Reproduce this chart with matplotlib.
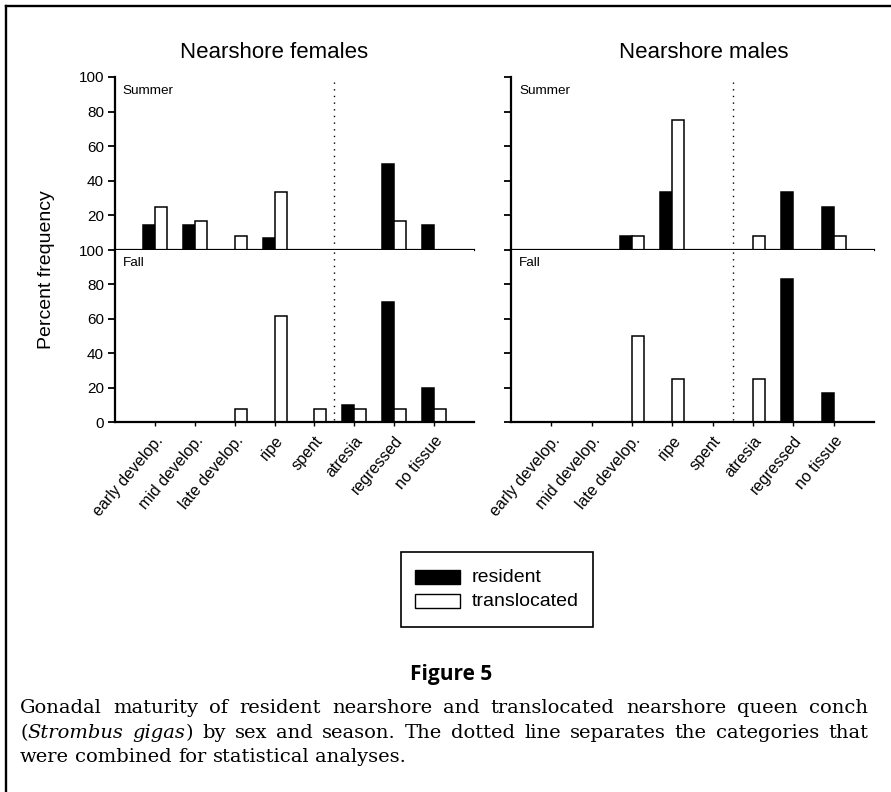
"""
Figure 5: gonadal maturity of resident vs translocated nearshore queen conch,
by sex (columns) and season (rows). Saves out.png.
"""

import matplotlib
matplotlib.use("Agg")
import matplotlib.pyplot as plt
from matplotlib.lines import Line2D
from matplotlib.patches import Rectangle

W, H = 891, 792  # figure size in pixels (dpi 100)

CATEGORIES = ["early develop.", "mid develop.", "late develop.", "ripe",
              "spent", "atresia", "regressed", "no tissue"]
SERIES = ["resident", "translocated"]

# percent frequency per category
FEM_SUMMER_RES = [14.3, 14.3, 0, 7.1, 0, 0, 50.0, 14.3]
FEM_SUMMER_TRANS = [25.0, 16.7, 8.3, 33.3, 0, 0, 16.7, 0]
FEM_FALL_RES = [0, 0, 0, 0, 0, 10.0, 70.0, 20.0]
FEM_FALL_TRANS = [0, 0, 7.7, 61.5, 7.7, 7.7, 7.7, 7.7]
MALE_SUMMER_RES = [0, 0, 8.3, 33.3, 0, 0, 33.3, 25.0]
MALE_SUMMER_TRANS = [0, 0, 8.3, 75.0, 0, 8.3, 0, 8.3]
MALE_FALL_RES = [0, 0, 0, 0, 0, 0, 83.3, 16.7]
MALE_FALL_TRANS = [0, 0, 50.0, 25.0, 0, 25.0, 0, 0]

CAPTION_1 = "Gonadal maturity of resident nearshore and translocated nearshore queen conch"
CAPTION_2 = [[("(", "normal"), ("Strombus", "italic")], [("gigas", "italic"), (")", "normal")],
             "by", "sex", "and", "season.", "The", "dotted", "line", "separates", "the",
             "categories", "that"]
CAPTION_3 = "were combined for statistical analyses."

plt.rcParams["font.family"] = ["Liberation Sans", "DejaVu Sans"]

BAR_W = 0.3
SPLIT = 4.5  # dotted line between "spent" and "atresia"


def px_rect(x0, y0, x1, y1):
    return [x0 / W, 1 - y1 / H, (x1 - x0) / W, (y1 - y0) / H]


def fx(x):
    return x / W


def fy(y):
    return 1 - y / H


def draw_panel(ax, res, trans, season, show_ylabels, bottom_row):
    xs = list(range(len(CATEGORIES)))
    # resident to the left of the tick, translocated to the right
    for x, v in zip(xs, res):
        if v > 0:
            ax.bar(x, v, width=-BAR_W, align="edge", color="black",
                   edgecolor="black", linewidth=1.1)
    for x, v in zip(xs, trans):
        if v > 0:
            ax.bar(x, v, width=BAR_W, align="edge", color="white",
                   edgecolor="black", linewidth=1.1)
    ax.set_xlim(-1, 8)
    ax.set_ylim(0, 100)
    for s in ["top", "right"]:
        ax.spines[s].set_visible(False)
    for s in ["left", "bottom"]:
        ax.spines[s].set_linewidth(1.6)
    if bottom_row:
        ax.set_yticks([0, 20, 40, 60, 80, 100])
        ax.set_xticks(xs)
        ax.set_xticklabels(CATEGORIES, rotation=50, ha="right",
                           rotation_mode="anchor", fontsize=11.5)
        ax.tick_params(axis="x", direction="out", length=3, width=1, pad=5)
        ax.axvline(SPLIT, ymin=0.01, ymax=1.0, color="black", lw=1.0,
                   linestyle=(0, (1, 3.8)))
    else:
        ax.set_yticks([20, 40, 60, 80, 100])
        ax.tick_params(axis="x", bottom=False, labelbottom=False)
        ax.axvline(SPLIT, ymin=0.0, ymax=0.97, color="black", lw=1.0,
                   linestyle=(0, (1, 3.8)))
    ax.tick_params(axis="y", direction="out", length=5, width=1.3, pad=3,
                   labelsize=11, labelleft=show_ylabels)
    ax.text(0.022, 0.92 if not bottom_row else 0.925, season,
            transform=ax.transAxes, fontsize=9.7, va="center", ha="left")


def place_words(fig, renderer, words, y, x0, x1, size, justify=True):
    # words: list of str or list of (text, style) pieces
    groups = []
    for w in words:
        pieces = [(w, "normal")] if isinstance(w, str) else w
        arts = []
        for txt, style in pieces:
            t = fig.text(0, fy(y), txt, fontsize=size, style=style,
                         family="DejaVu Serif", va="baseline", ha="left")
            arts.append(t)
        groups.append(arts)
    widths = [[a.get_window_extent(renderer).width for a in g] for g in groups]
    total = sum(sum(w) for w in widths)
    gap = (x1 - x0 - total) / (len(groups) - 1) if justify else size * 0.32 * 100 / 72
    x = x0
    for g, ws in zip(groups, widths):
        for a, w in zip(g, ws):
            a.set_x(fx(x))
            x += w
        x += gap


def main():
    fig = plt.figure(figsize=(W / 100, H / 100), dpi=100)

    ax_fs = fig.add_axes(px_rect(115, 77, 474, 250))
    ax_ff = fig.add_axes(px_rect(115, 250, 474, 422))
    ax_ms = fig.add_axes(px_rect(511, 77, 874, 250))
    ax_mf = fig.add_axes(px_rect(511, 250, 874, 422))

    draw_panel(ax_fs, FEM_SUMMER_RES, FEM_SUMMER_TRANS, "Summer", True, False)
    draw_panel(ax_ff, FEM_FALL_RES, FEM_FALL_TRANS, "Fall", True, True)
    draw_panel(ax_ms, MALE_SUMMER_RES, MALE_SUMMER_TRANS, "Summer", False, False)
    draw_panel(ax_mf, MALE_FALL_RES, MALE_FALL_TRANS, "Fall", False, True)

    fig.text(fx(180), fy(58), "Nearshore females", fontsize=16,
             ha="left", va="baseline")
    fig.text(fx(619), fy(58), "Nearshore males", fontsize=16,
             ha="left", va="baseline")
    fig.text(fx(47), fy(270), "Percent frequency", fontsize=14,
             rotation=90, ha="center", va="center")

    # legend box
    fig.add_artist(Rectangle((fx(401), fy(627)), (593 - 401) / W, (627 - 552) / H,
                             transform=fig.transFigure, fill=False,
                             edgecolor="black", linewidth=1.2))
    for i, (label, color) in enumerate(zip(SERIES, ["black", "white"])):
        yc = 577 + 24 * i
        fig.add_artist(Rectangle((fx(415), fy(yc + 7)), 45 / W, 14 / H,
                                 transform=fig.transFigure, facecolor=color,
                                 edgecolor="black", linewidth=1.0))
        fig.text(fx(472), fy(yc), label, fontsize=14, ha="left", va="center")

    # page frame (left and top edges)
    fig.add_artist(Line2D([fx(6), fx(6)], [fy(6), fy(792)],
                          transform=fig.transFigure, color="black", lw=1.7))
    fig.add_artist(Line2D([fx(6), fx(891)], [fy(6), fy(6)],
                          transform=fig.transFigure, color="black", lw=1.7))

    fig.text(fx(451), fy(680), "Figure 5", fontsize=15, fontweight="bold",
             family="Open Sans", ha="center", va="baseline")

    renderer = fig.canvas.get_renderer()
    size = 14.0
    place_words(fig, renderer, CAPTION_1.split(), 713, 20, 868, size)
    place_words(fig, renderer, CAPTION_2, 738, 20, 868, size)
    place_words(fig, renderer, CAPTION_3.split(), 762, 20, 868, size, justify=False)

    fig.savefig("out.png", dpi=100)


if __name__ == "__main__":
    main()
